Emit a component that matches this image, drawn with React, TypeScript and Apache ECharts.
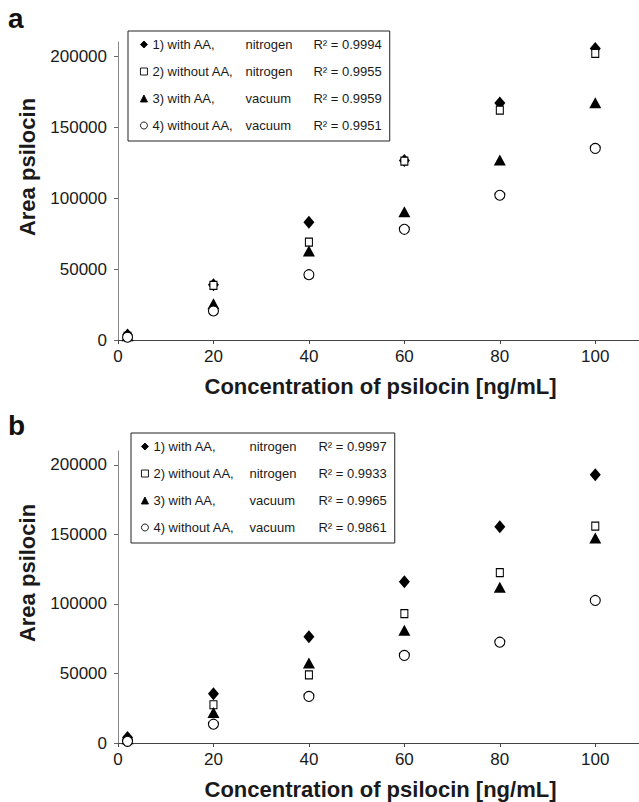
import React, { useEffect, useRef } from "react";
import * as echarts from "echarts";

// ---- data ----
const concentrations = [2, 20, 40, 60, 80, 100];
const xTicks = [0, 20, 40, 60, 80, 100];
const yTicks = [0, 50000, 100000, 150000, 200000];

const seriesLabels = ["1) with AA,", "2) without AA,", "3) with AA,", "4) without AA,"];
const atmospheres = ["nitrogen", "nitrogen", "vacuum", "vacuum"];
const r2PanelA = ["0.9994", "0.9955", "0.9959", "0.9951"];
const r2PanelB = ["0.9997", "0.9933", "0.9965", "0.9861"];

// panel a
const aWithAANitrogen = [3500, 39000, 83000, 126500, 167000, 205500];
const aWithoutAANitrogen = [2500, 38500, 69000, 126000, 162000, 202000];
const aWithAAVacuum = [3000, 25500, 62800, 90300, 126900, 167200];
const aWithoutAAVacuum = [2000, 20500, 46000, 78000, 102000, 135000];

// panel b
const bWithAANitrogen = [4000, 35500, 76500, 116000, 155500, 193000];
const bWithoutAANitrogen = [2000, 27500, 49000, 93000, 122500, 156000];
const bWithAAVacuum = [3000, 22000, 57500, 81000, 112000, 147500];
const bWithoutAAVacuum = [1200, 13500, 33500, 63000, 72500, 102500];

const panelA = [aWithAANitrogen, aWithoutAANitrogen, aWithAAVacuum, aWithoutAAVacuum];
const panelB = [bWithAANitrogen, bWithoutAANitrogen, bWithAAVacuum, bWithoutAAVacuum];

const FONT = '"Liberation Sans", Arial, Helvetica, sans-serif';

const symbols = [
  { symbol: "diamond", size: [11, 13], fill: "#000", border: "#000", bw: 0 },
  { symbol: "rect", size: [7, 8], fill: "#fff", border: "#000", bw: 1.1 },
  { symbol: "triangle", size: [12, 11], fill: "#000", border: "#000", bw: 0 },
  { symbol: "circle", size: [10, 10], fill: "#fff", border: "#000", bw: 1.1 },
];

const nameOf = (i: number, r2: string[]) => `${seriesLabels[i]} ${atmospheres[i]} R² = ${r2[i]}`;

export default function App() {
  const ref = useRef<HTMLDivElement>(null);

  useEffect(() => {
    if (!ref.current) return;
    const chart = echarts.init(ref.current, undefined, { renderer: "svg" });

    const parts: Record<string, { l: string; g: string; r: string }> = {};
    [r2PanelA, r2PanelB].forEach((r2) => {
      seriesLabels.forEach((_, i) => {
        parts[nameOf(i, r2)] = { l: seriesLabels[i], g: atmospheres[i], r: `R² = ${r2[i]}` };
      });
    });
    const formatter = (name: string) => {
      const p = parts[name];
      return `{l|${p.l}}{g|${p.g}}{r|${p.r}}`;
    };

    const makeAxes = (gridIndex: number) => {
      const xAxis = {
        type: "value",
        gridIndex,
        min: 0,
        max: 110,
        interval: 20,
        splitLine: { show: false },
        splitArea: { show: false },
        axisLine: { onZero: false, lineStyle: { color: "#444", width: 1 } },
        axisTick: { show: true, inside: false, length: 4, customValues: xTicks, lineStyle: { color: "#444" } },
        axisLabel: {
          customValues: xTicks,
          margin: 8,
          fontSize: 17,
          color: "#1a1a1a",
          fontFamily: FONT,
          formatter: (v: number) => String(v),
        },
        name: "Concentration of psilocin [ng/mL]",
        nameLocation: "middle",
        nameGap: 35,
        nameTextStyle: { fontSize: 22, fontWeight: "bold", color: "#1a1a1a", fontFamily: FONT },
      };
      const yAxis = {
        type: "value",
        gridIndex,
        min: 0,
        max: 210000,
        interval: 50000,
        splitLine: { show: false },
        splitArea: { show: false },
        axisLine: { show: true, lineStyle: { color: "#888", width: 1 } },
        axisTick: { show: true, inside: false, length: 4, customValues: yTicks, lineStyle: { color: "#666" } },
        axisLabel: {
          customValues: yTicks,
          margin: 11,
          fontSize: 17,
          color: "#1a1a1a",
          fontFamily: FONT,
          formatter: (v: number) => String(v),
        },
        name: "Area psilocin",
        nameLocation: "middle",
        nameRotate: 90,
        nameGap: 80,
        nameTextStyle: { fontSize: 22, fontWeight: "bold", color: "#1a1a1a", fontFamily: FONT, padding: [0, 0, 0, 48] },
      };
      return { xAxis, yAxis };
    };

    const A = makeAxes(0);
    const B = makeAxes(1);

    const makeSeries = (data: number[][], r2: string[], idx: number) =>
      data.map((vals, i) => ({
        type: "scatter",
        name: nameOf(i, r2),
        xAxisIndex: idx,
        yAxisIndex: idx,
        symbol: symbols[i].symbol,
        symbolSize: symbols[i].size,
        itemStyle: { color: symbols[i].fill, borderColor: symbols[i].border, borderWidth: symbols[i].bw, opacity: 1 },
        emphasis: { disabled: true },
        silent: true,
        data: concentrations.map((c, k) => [c, vals[k]]),
      }));

    const makeLegend = (r2: string[], left: number, top: number, wl: number, wg: number, wr: number, padding: number[]) => ({
      orient: "vertical",
      left,
      top,
      data: seriesLabels.map((_, i) => nameOf(i, r2)),
      itemWidth: 7,
      itemHeight: 7,
      itemGap: 14,
      padding,
      borderColor: "#222",
      borderWidth: 1,
      backgroundColor: "#fff",
      selectedMode: false,
      itemStyle: { borderWidth: 0.9 },
      formatter,
      textStyle: {
        fontSize: 13,
        color: "#1a1a1a",
        fontFamily: FONT,
        rich: {
          l: { width: wl, fontSize: 13, fontFamily: FONT, color: "#1a1a1a" },
          g: { width: wg, fontSize: 13, fontFamily: FONT, color: "#1a1a1a" },
          r: { width: wr, fontSize: 13, fontFamily: FONT, color: "#1a1a1a" },
        },
      },
    });

    chart.setOption({
      animation: false,
      backgroundColor: "#fff",
      textStyle: { fontFamily: FONT },
      grid: [
        { left: 118, top: 42, width: 525, height: 298, outerBoundsMode: "none", containLabel: false },
        { left: 118, top: 451, width: 525, height: 292, outerBoundsMode: "none", containLabel: false },
      ],
      xAxis: [A.xAxis, B.xAxis],
      yAxis: [A.yAxis, B.yAxis],
      legend: [
        makeLegend(r2PanelA, 128, 31, 93, 68, 76, [7, 8, 9, 12]),
        makeLegend(r2PanelB, 131, 433, 96, 69, 72, [7, 8, 9, 10]),
      ],
      graphic: [
        { type: "text", x: 8, y: 18, style: { text: "a", font: `bold 28px ${FONT}`, fill: "#111", verticalAlign: "middle" } },
        { type: "text", x: 8, y: 425, style: { text: "b", font: `bold 28px ${FONT}`, fill: "#111", verticalAlign: "middle" } },
      ],
      series: [...makeSeries(panelA, r2PanelA, 0), ...makeSeries(panelB, r2PanelB, 1)],
    });

    return () => chart.dispose();
  }, []);

  return (
    <div
      ref={ref}
      style={{ position: "absolute", left: 0, top: 0, width: 639, height: 802, background: "#fff" }}
    />
  );
}
